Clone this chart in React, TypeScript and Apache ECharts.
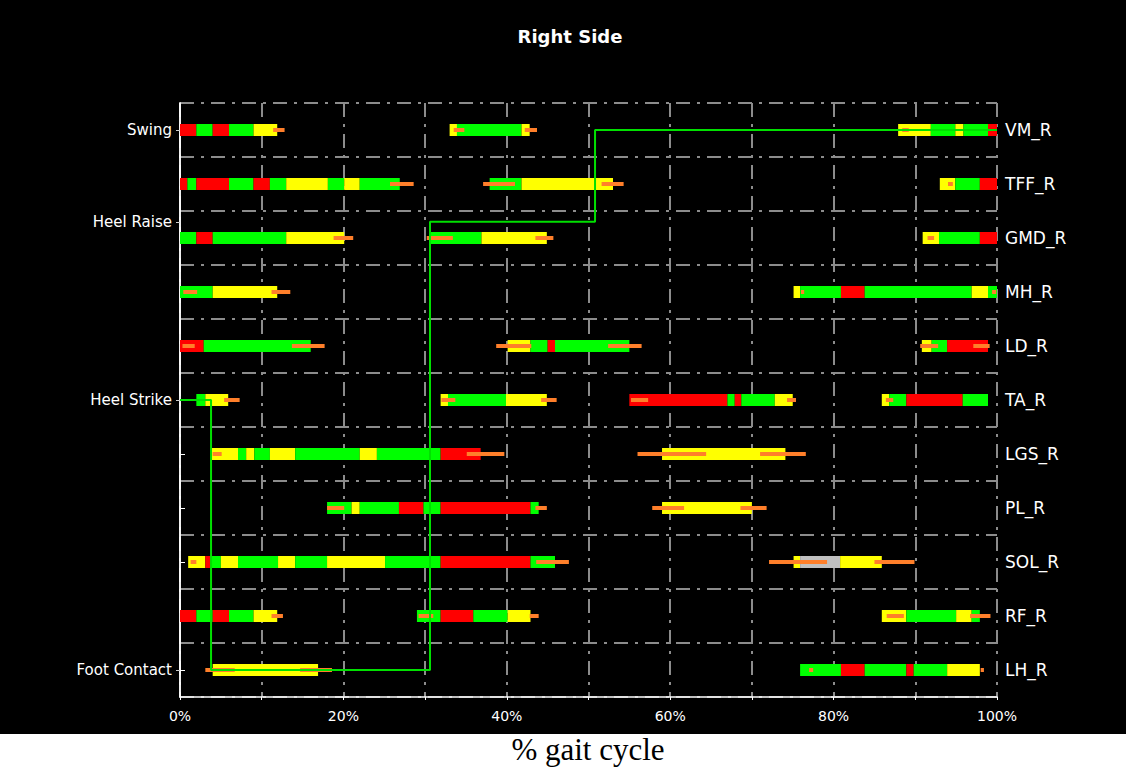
import React, { useEffect, useRef } from 'react';
import * as echarts from 'echarts';

// Muscles, top to bottom
const ROWS = ['VM_R', 'TFF_R', 'GMD_R', 'MH_R', 'LD_R', 'TA_R', 'LGS_R', 'PL_R', 'SOL_R', 'RF_R', 'LH_R'];

// Gait phases on the left axis (level in row units, 0 = LH_R row, 10 = VM_R row)
const PHASE_LABELS = ['Foot Contact', 'Heel Strike', 'Heel Raise', 'Swing'];
const PHASE_LEVELS = [0, 5, 8.3, 10];

// Step line of the gait phase
const STEP_X = [0, 3.8, 3.8, 30.6, 30.6, 50.8, 50.8, 100];
const STEP_Y = [5, 5, 0, 0, 8.3, 8.3, 10, 10];

// Segments: [start %, end %, colour code]  R red, G green, Y yellow, S grey
const VM_R_SEG = [[0, 2, 'R'], [2, 4, 'G'], [4, 6, 'R'], [6, 9, 'G'], [9, 11.9, 'Y'], [33, 33.9, 'Y'], [33.9, 41.8, 'G'], [41.8, 42.8, 'Y'], [87.9, 91.9, 'Y'], [91.9, 94.9, 'G'], [94.9, 95.9, 'Y'], [95.9, 98.9, 'G'], [98.9, 100, 'R']];
const TFF_R_SEG = [[0, 0.9, 'R'], [0.9, 2, 'G'], [2, 6, 'R'], [6, 9, 'G'], [9, 11, 'R'], [11, 13, 'G'], [13, 18.1, 'Y'], [18.1, 20.1, 'G'], [20.1, 22, 'Y'], [22, 26.9, 'G'], [37.9, 41.8, 'G'], [41.8, 53, 'Y'], [93, 94.9, 'Y'], [94.9, 97.9, 'G'], [97.9, 100, 'R']];
const GMD_R_SEG = [[0, 2, 'G'], [2, 4, 'R'], [4, 13, 'G'], [13, 20.1, 'Y'], [30.6, 36.9, 'G'], [36.9, 44.9, 'Y'], [90.9, 92.9, 'Y'], [92.9, 97.9, 'G'], [97.9, 100, 'R']];
const MH_R_SEG = [[0, 4, 'G'], [4, 11.9, 'Y'], [75.1, 75.9, 'Y'], [75.9, 80.9, 'G'], [80.9, 83.8, 'R'], [83.8, 96.9, 'G'], [96.9, 98.9, 'Y'], [98.9, 100, 'G']];
const LD_R_SEG = [[0, 2.9, 'R'], [2.9, 16, 'G'], [40.1, 42.9, 'Y'], [42.9, 45, 'G'], [45, 45.9, 'R'], [45.9, 55, 'G'], [90.8, 92, 'Y'], [92, 93.9, 'G'], [93.9, 98.9, 'R']];
const TA_R_SEG = [[2, 3.1, 'G'], [3.1, 5.9, 'Y'], [31.9, 32.8, 'Y'], [32.8, 39.9, 'G'], [39.9, 44.9, 'Y'], [55, 67, 'R'], [67, 67.9, 'G'], [67.9, 68.7, 'R'], [68.7, 72.8, 'G'], [72.8, 75, 'Y'], [85.9, 86.8, 'Y'], [86.8, 88.9, 'G'], [88.9, 95.8, 'R'], [95.8, 98.9, 'G']];
const LGS_R_SEG = [[3.9, 7.1, 'Y'], [7.1, 8.1, 'G'], [8.1, 9.1, 'Y'], [9.1, 11, 'G'], [11, 14.1, 'Y'], [14.1, 22, 'G'], [22, 24.1, 'Y'], [24.1, 31.9, 'G'], [31.9, 36.8, 'R'], [59, 74.1, 'Y']];
const PL_R_SEG = [[18, 21, 'G'], [21, 22, 'Y'], [22, 26.8, 'G'], [26.8, 29.8, 'R'], [29.8, 31.9, 'G'], [31.9, 42.9, 'R'], [42.9, 43.9, 'G'], [59, 70, 'Y']];
const SOL_R_SEG = [[1, 3.1, 'Y'], [3.1, 3.8, 'R'], [3.8, 5, 'G'], [5, 7.1, 'Y'], [7.1, 12, 'G'], [12, 14.1, 'Y'], [14.1, 18, 'G'], [18, 25.1, 'Y'], [25.1, 31.9, 'G'], [31.9, 42.9, 'R'], [42.9, 45.9, 'G'], [75.1, 75.9, 'Y'], [75.9, 80.8, 'S'], [80.8, 85.9, 'Y']];
const RF_R_SEG = [[0, 2, 'R'], [2, 4, 'G'], [4, 6, 'R'], [6, 9, 'G'], [9, 11.9, 'Y'], [29, 31.9, 'G'], [31.9, 35.9, 'R'], [35.9, 40.1, 'G'], [40.1, 42.9, 'Y'], [85.9, 88.9, 'Y'], [88.9, 95, 'G'], [95, 96.9, 'Y'], [96.9, 97.9, 'G']];
const LH_R_SEG = [[4, 16.9, 'Y'], [75.9, 80.9, 'G'], [80.9, 83.8, 'R'], [83.8, 88.9, 'G'], [88.9, 89.8, 'R'], [89.8, 93.9, 'G'], [93.9, 97.9, 'Y']];

// Onset / offset variability lines: [from %, to %]
const VM_R_SD = [[11.4, 12.8], [33.5, 34.8], [42.2, 43.7], [88.4, 89.2]];
const TFF_R_SD = [[25.7, 28.6], [37.1, 41], [51.6, 54.3], [94, 94.6]];
const GMD_R_SD = [[18.8, 21.2], [30.2, 33.4], [43.5, 45.7], [91.5, 92.3]];
const MH_R_SD = [[0.4, 2.1], [11.2, 13.5], [76, 76.4], [99.4, 99.9]];
const LD_R_SD = [[0.3, 1.8], [13.7, 17.7], [38.7, 43], [52.4, 56.5], [90.6, 92.8], [97.1, 99.1]];
const TA_R_SD = [[5.4, 7.3], [32, 33.7], [44.2, 46.1], [55.2, 57.3], [74.3, 75.4], [86.4, 87.3]];
const LGS_R_SD = [[4, 5.1], [35.1, 39.7], [56, 64.4], [71, 76.6]];
const PL_R_SD = [[18, 20.1], [43.5, 44.9], [57.8, 61.7], [68.6, 71.8]];
const SOL_R_SD = [[1.3, 2], [43.6, 47.6], [72.1, 79.2], [85, 89.9]];
const RF_R_SD = [[11.2, 12.6], [29.2, 31], [42.8, 43.9], [86.5, 88.6], [96.7, 99.2]];
const LH_R_SD = [[3.1, 6.7], [14.7, 18.6], [77, 77.5], [98, 98.4]];

const ALL_SEG = [VM_R_SEG, TFF_R_SEG, GMD_R_SEG, MH_R_SEG, LD_R_SEG, TA_R_SEG, LGS_R_SEG, PL_R_SEG, SOL_R_SEG, RF_R_SEG, LH_R_SEG];
const ALL_SD = [VM_R_SD, TFF_R_SD, GMD_R_SD, MH_R_SD, LD_R_SD, TA_R_SD, LGS_R_SD, PL_R_SD, SOL_R_SD, RF_R_SD, LH_R_SD];

const COLORS: Record<string, string> = { R: '#ff0000', G: '#00ff00', Y: '#ffff00', S: '#c0c0c0' };

const GRID_STYLE = { color: '#8c8c8c', width: 2, type: [14, 7, 3, 7] as any };

export default function App() {
  const ref = useRef<HTMLDivElement>(null);
  useEffect(() => {
    if (!ref.current) return;
    const chart = echarts.init(ref.current, null, { renderer: 'svg' });

    const barData: any[] = [];
    ALL_SEG.forEach((segs, r) => {
      segs.forEach((s: any) => {
        barData.push({ value: [r, s[0], s[1]], itemStyle: { color: COLORS[s[2]] } });
      });
    });
    const sdData: any[] = [];
    ALL_SD.forEach((sds, r) => {
      sds.forEach((s) => sdData.push([r, s[0], s[1]]));
    });

    const makeRender = (h: number, useVisual: boolean) => (params: any, api: any) => {
      const row = api.value(0);
      const a = api.coord([api.value(1), row]);
      const b = api.coord([api.value(2), row]);
      return {
        type: 'rect',
        shape: { x: a[0], y: a[1] - h / 2, width: b[0] - a[0], height: h },
        style: { fill: useVisual ? api.visual('color') : '#ff7f2a' },
      };
    };

    chart.setOption({
      animation: false,
      backgroundColor: '#000000',
      grid: { left: 180, right: 129, top: 103, bottom: 77 },
      graphic: [
        { type: 'rect', z: 100, shape: { x: 0, y: 734, width: 1126, height: 40 }, style: { fill: '#ffffff' } },
        {
          type: 'text', z: 101, x: 588, y: 749,
          style: { text: '% gait cycle', fill: '#000', font: '31px "Liberation Serif"', textAlign: 'center', textVerticalAlign: 'middle', align: 'center', verticalAlign: 'middle' } as any,
        },
        {
          type: 'text', z: 101, x: 570, y: 36,
          style: { text: 'Right Side', fill: '#fff', font: 'bold 18px "DejaVu Sans"', textAlign: 'center', textVerticalAlign: 'middle', align: 'center', verticalAlign: 'middle' } as any,
        },
      ],
      xAxis: {
        type: 'value', min: 0, max: 100, interval: 10,
        axisLine: { show: true, onZero: false, lineStyle: { color: '#ffffff', width: 1.5 } },
        axisTick: { show: true, length: 3, lineStyle: { color: '#ffffff' } },
        axisLabel: {
          color: '#ffffff', fontFamily: 'DejaVu Sans', fontSize: 14, margin: 12,
          formatter: (v: number) => (v % 20 === 0 ? v + '%' : ''),
        },
        splitLine: { show: true, lineStyle: GRID_STYLE },
      },
      yAxis: [
        {
          type: 'category', data: ROWS, inverse: true, position: 'right',
          axisLine: { show: true, lineStyle: { color: '#ffffff', width: 1.5 } },
          axisTick: { show: true, alignWithLabel: true, length: 5, lineStyle: { color: '#ffffff' } },
          axisLabel: { color: '#ffffff', fontFamily: 'DejaVu Sans', fontSize: 17, margin: 8 },
          splitLine: { show: true, lineStyle: GRID_STYLE },
        },
        {
          type: 'value', min: -0.5, max: 10.5, position: 'left',
          axisLine: { show: true, onZero: false, lineStyle: { color: '#ffffff', width: 1.5 } },
          axisTick: { show: true, customValues: PHASE_LEVELS, length: 4, lineStyle: { color: '#cccccc' } },
          axisLabel: {
            customValues: PHASE_LEVELS, color: '#ffffff', fontFamily: 'DejaVu Sans', fontSize: 15, margin: 8,
            formatter: (v: number) => {
              let best = 0;
              PHASE_LEVELS.forEach((l, i) => { if (Math.abs(l - v) < Math.abs(PHASE_LEVELS[best] - v)) best = i; });
              return PHASE_LABELS[best];
            },
          },
          splitLine: { show: false },
        },
      ],
      series: [
        {
          type: 'custom', name: 'bars', xAxisIndex: 0, yAxisIndex: 0, z: 3,
          renderItem: makeRender(12, true),
          encode: { x: [1, 2], y: 0 },
          data: barData,
        },
        {
          type: 'custom', name: 'sd', xAxisIndex: 0, yAxisIndex: 0, z: 4,
          renderItem: makeRender(4, false),
          encode: { x: [1, 2], y: 0 },
          data: sdData,
        },
        {
          type: 'line', name: 'phase', xAxisIndex: 0, yAxisIndex: 1, z: 5,
          symbol: 'none',
          lineStyle: { color: '#00e000', width: 2 },
          data: STEP_X.map((x, i) => [x, STEP_Y[i]]),
        },
      ],
    });
    return () => chart.dispose();
  }, []);
  return <div ref={ref} style={{ position: 'fixed', left: 0, top: 0, width: 1126, height: 774 }} />;
}
